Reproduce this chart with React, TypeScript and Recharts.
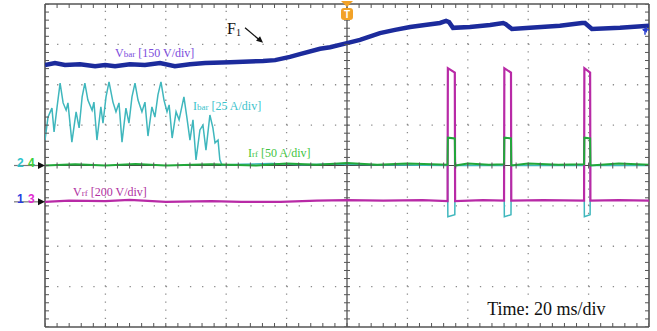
import React from 'react';
import { ComposedChart, Line, XAxis, YAxis, ReferenceLine, ReferenceDot, Scatter } from 'recharts';

// time axis: 0..200 ms (20 ms/div), vertical axis in screen divisions (-4..4)

// Vbar trace (channel 1)
const vbarTime = [0, 3.3, 6.6, 11.6, 16.6, 19.9, 23.2, 28.1, 33.1, 38.1, 43.0, 48.0, 53.0, 61.3, 72.2, 76.2, 81.1, 84.4, 91.1, 94.4, 100, 104.3, 110.9, 115.9, 120.9, 125.8, 130.8, 132.8, 133.8, 135.1, 140.7, 147.4, 151.7, 152.6, 154.6, 160.6, 170.5, 177.8, 178.8, 181.1, 190.4, 200];
const vbarDiv = [2.49, 2.54, 2.49, 2.51, 2.46, 2.49, 2.46, 2.51, 2.49, 2.54, 2.46, 2.51, 2.54, 2.56, 2.59, 2.61, 2.69, 2.76, 2.89, 2.93, 3.03, 3.11, 3.28, 3.36, 3.43, 3.48, 3.53, 3.58, 3.55, 3.41, 3.43, 3.48, 3.53, 3.50, 3.38, 3.41, 3.46, 3.53, 3.53, 3.38, 3.41, 3.46];

// Ibar trace (channel 2)
const ibarTime = [0, 1.0, 2.3, 3.0, 4.0, 5.0, 6.0, 7.0, 7.6, 8.9, 10.3, 11.3, 12.3, 13.2, 14.2, 15.6, 16.2, 17.2, 18.5, 19.2, 20.2, 21.2, 22.5, 23.5, 24.5, 25.5, 26.8, 27.8, 28.8, 29.8, 30.8, 32.1, 33.1, 34.1, 35.4, 36.4, 37.4, 38.4, 39.4, 40.4, 41.1, 42.1, 43.4, 44.4, 46.0, 47.0, 48.0, 49.0, 50.0, 51.3, 52.3, 53.3, 54.6, 55.6, 56.3, 57.3, 57.9, 58.6, 65, 75, 85, 95, 110, 133.3, 133.4, 135.7, 135.8, 152.0, 152.1, 154.3, 154.4, 178.5, 178.6, 180.5, 180.6, 200];
const ibarDiv = [0.63, 1.20, 1.42, 0.83, 1.45, 2.04, 1.55, 1.37, 1.55, 0.58, 1.33, 0.93, 1.70, 2.04, 1.62, 1.37, 1.57, 0.63, 1.45, 1.05, 1.70, 2.07, 1.57, 1.33, 1.55, 0.58, 1.42, 1.05, 1.70, 2.04, 1.62, 1.33, 1.57, 0.73, 1.45, 1.20, 1.75, 2.07, 1.62, 1.33, 1.50, 0.68, 1.33, 1.13, 1.70, 1.18, 0.63, 1.13, 0.14, 0.88, 1.00, 0.38, 1.25, 0.93, 0.56, 0.63, 0.14, 0.01, 0.03, 0.05, 0.02, 0.04, 0.02, 0, -1.27, -1.22, 0, 0, -1.27, -1.22, 0, 0, -1.27, -1.22, 0, 0];

// Vrf trace (channel 3)
const vrfTime = [0, 8, 20, 28, 40, 55, 65, 78, 90, 100, 112, 125, 133.3, 133.4, 135.7, 135.8, 145, 152.0, 152.1, 154.3, 154.4, 165, 178.5, 178.6, 180.5, 180.6, 190, 200];
const vrfDiv = [-0.90, -0.87, -0.88, -0.85, -0.90, -0.88, -0.90, -0.90, -0.87, -0.86, -0.87, -0.86, -0.88, 2.41, 2.30, -0.88, -0.86, -0.87, 2.41, 2.30, -0.87, -0.86, -0.87, 2.41, 2.30, -0.87, -0.86, -0.87];

// Irf trace (channel 4)
const irfTime = [0, 10, 20, 30, 40, 55, 70, 80, 90, 100, 110, 120, 128, 133.3, 133.4, 135.7, 135.8, 140, 147, 152.0, 152.1, 154.3, 154.4, 160, 170, 178.5, 178.6, 180.5, 180.6, 190, 200];
const irfDiv = [0, 0.03, 0, 0.04, 0, 0.03, 0, 0.05, 0.02, 0.06, 0.02, 0.05, 0.03, 0.02, 0.69, 0.67, 0, 0.05, 0.02, 0.03, 0.69, 0.67, 0, 0.05, 0.02, 0.03, 0.69, 0.67, 0, 0.05, 0.02];

// graticule
const majorX = [20, 40, 60, 80, 120, 140, 160, 180];
const majorY = [-3, -2, -1, 1, 2, 3];
const minorX = Array.from({ length: 51 }, (_, i) => i * 4);
const minorY = Array.from({ length: 41 }, (_, i) => +(-4 + i * 0.2).toFixed(1));

const zip = (ts: number[], vs: number[]) => ts.map((t, i) => ({ t, v: vs[i] }));

const vbarData = zip(vbarTime, vbarDiv);
const ibarData = zip(ibarTime, ibarDiv);
const vrfData = zip(vrfTime, vrfDiv);
const irfData = zip(irfTime, irfDiv);

const GRID = '#8c8c8c';
const FRAME = '#555';
const SERIF = '"Liberation Serif", "Times New Roman", serif';
const SANS = '"Liberation Sans", Arial, sans-serif';

const tickShape = (dx1: number, dy1: number, dx2: number, dy2: number) => (p: any) => (
  <line x1={p.cx + dx1} y1={p.cy + dy1} x2={p.cx + dx2} y2={p.cy + dy2} stroke={FRAME} strokeWidth={1} />
);

const channelMarker = (a: string, ca: string, b: string, cb: string) => (p: any) => (
  <g>
    <line x1={p.cx - 31} y1={p.cy} x2={p.cx - 5} y2={p.cy} stroke="#777" strokeWidth={1.2} />
    <polygon points={`${p.cx - 7},${p.cy - 3.5} ${p.cx},${p.cy} ${p.cx - 7},${p.cy + 3.5}`} fill="#111" />
    <text x={p.cx - 28} y={p.cy + 1} fill={ca} fontSize={12} fontWeight="bold" fontFamily={SANS}>{a}</text>
    <text x={p.cx - 17} y={p.cy + 1} fill={cb} fontSize={12} fontWeight="bold" fontFamily={SANS}>{b}</text>
  </g>
);

const labelShape = (main: string, sub: string, rest: string, color: string) => (p: any) => (
  <text x={p.cx} y={p.cy} fill={color} fontSize={12} fontFamily={SERIF}>
    {main}
    <tspan fontSize={9}>{sub}</tspan>
    {rest}
  </text>
);

const triggerShape = (p: any) => (
  <g>
    <polygon points={`${p.cx - 6},${p.cy - 3} ${p.cx + 6},${p.cy - 3} ${p.cx},${p.cy + 3}`} fill="#f2a228" />
    <rect x={p.cx - 6} y={p.cy + 4} width={12} height={12} rx={3} fill="#f2a228" />
    <text x={p.cx} y={p.cy + 14} fill="#fff" fontSize={10} fontWeight="bold" textAnchor="middle" fontFamily={SANS}>T</text>
  </g>
);

const arrowShape = (p: any) => (
  <g>
    <line x1={p.cx - 18} y1={p.cy - 15} x2={p.cx - 2} y2={p.cy - 1.5} stroke="#111" strokeWidth={1.3} />
    <polygon points={`${p.cx},${p.cy} ${p.cx - 7},${p.cy - 2} ${p.cx - 3},${p.cy - 6.5}`} fill="#111" />
  </g>
);

const f1Shape = (p: any) => (
  <text x={p.cx} y={p.cy} fill="#111" fontSize={16} fontFamily={SERIF}>
    F<tspan fontSize={10} dy={2}>1</tspan>
  </text>
);

const ch1RefShape = (p: any) => (
  <g>
    <line x1={p.cx - 6} y1={p.cy} x2={p.cx} y2={p.cy} stroke="#2a3fd0" strokeWidth={1.5} />
    <polygon points={`${p.cx - 7},${p.cy} ${p.cx - 2},${p.cy - 3} ${p.cx - 2},${p.cy + 3}`} fill="#2a3fd0" />
    <line x1={p.cx - 4} y1={p.cy} x2={p.cx - 4} y2={p.cy + 5} stroke="#2a3fd0" strokeWidth={1.5} />
  </g>
);

const timeShape = (p: any) => (
  <g>
    <rect x={p.cx - 3} y={p.cy - 16} width={128} height={21} fill="#fff" />
    <text x={p.cx} y={p.cy} fill="#111" fontSize={18} fontFamily={SERIF}>Time: 20 ms/div</text>
  </g>
);

export default function App() {
  return (
    <div style={{ position: 'absolute', left: 0, top: 0, width: 657, height: 331, background: '#fff' }}>
      <ComposedChart width={657} height={331} margin={{ top: 4, right: 8, bottom: 4, left: 45 }}>
        <XAxis type="number" dataKey="t" domain={[0, 200]} hide allowDataOverflow />
        <YAxis type="number" dataKey="v" domain={[-4, 4]} hide allowDataOverflow />

        {majorX.map((x) => (
          <ReferenceLine key={'gx' + x} x={x} stroke={GRID} strokeWidth={1.3} strokeDasharray="1.3 6.775" />
        ))}
        {majorY.map((y) => (
          <ReferenceLine key={'gy' + y} y={y} stroke={GRID} strokeWidth={1.3} strokeDasharray="1.3 10.78" />
        ))}
        <ReferenceLine x={100} stroke="#444" strokeWidth={1.2} />
        <ReferenceLine y={0} stroke="#444" strokeWidth={1.2} />
        <ReferenceLine x={0} stroke={FRAME} strokeWidth={1.6} />
        <ReferenceLine x={200} stroke={FRAME} strokeWidth={1.6} />
        <ReferenceLine y={4} stroke={FRAME} strokeWidth={1.6} />
        <ReferenceLine y={-4} stroke={FRAME} strokeWidth={1.6} />

        <Scatter data={minorX.map((t) => ({ t, v: 4 }))} shape={tickShape(0, 0, 0, 4)} isAnimationActive={false} />
        <Scatter data={minorX.map((t) => ({ t, v: -4 }))} shape={tickShape(0, -4, 0, 0)} isAnimationActive={false} />
        <Scatter data={minorX.map((t) => ({ t, v: 0 }))} shape={tickShape(0, -3, 0, 3)} isAnimationActive={false} />
        <Scatter data={minorY.map((v) => ({ t: 0, v }))} shape={tickShape(0, 0, 4, 0)} isAnimationActive={false} />
        <Scatter data={minorY.map((v) => ({ t: 200, v }))} shape={tickShape(-4, 0, 0, 0)} isAnimationActive={false} />
        <Scatter data={minorY.map((v) => ({ t: 100, v }))} shape={tickShape(-3, 0, 3, 0)} isAnimationActive={false} />

        <Line data={ibarData} dataKey="v" type="linear" stroke="#3fb7bd" strokeWidth={1.5} dot={false} isAnimationActive={false} />
        <Line data={vrfData} dataKey="v" type="linear" stroke="#b82aa6" strokeWidth={2.2} dot={false} isAnimationActive={false} />
        <Line data={irfData} dataKey="v" type="linear" stroke="#21a83a" strokeWidth={2} dot={false} isAnimationActive={false} />
        <Line data={vbarData} dataKey="v" type="linear" stroke="#1c2b9c" strokeWidth={4.5} dot={false} isAnimationActive={false} />

        <ReferenceDot x={23.2} y={2.69} r={0} shape={labelShape('V', 'bar', ' [150 V/div]', '#7b4bdc')} />
        <ReferenceDot x={49.0} y={1.37} r={0} shape={labelShape('I', 'bar', ' [25 A/div]', '#3cc3cc')} />
        <ReferenceDot x={67.2} y={0.21} r={0} shape={labelShape('I', 'rf', ' [50 A/div]', '#3fc43f')} />
        <ReferenceDot x={9.3} y={-0.76} r={0} shape={labelShape('V', 'rf', ' [200 V/div]', '#b0309f')} />
        <ReferenceDot x={60.3} y={3.26} r={0} shape={f1Shape} />
        <ReferenceDot x={72.2} y={3.04} r={0} shape={arrowShape} />
        <ReferenceDot x={146.4} y={-3.70} r={0} shape={timeShape} />
        <ReferenceDot x={100} y={4} r={0} ifOverflow="visible" shape={triggerShape} />
        <ReferenceDot x={200} y={3.36} r={0} ifOverflow="visible" shape={ch1RefShape} />
        <ReferenceDot x={0} y={0} r={0} ifOverflow="visible" shape={channelMarker('2', '#2ec4cc', '4', '#3ccf3c')} />
        <ReferenceDot x={0} y={-0.90} r={0} ifOverflow="visible" shape={channelMarker('1', '#2a3fe0', '3', '#e02ad0')} />
      </ComposedChart>
    </div>
  );
}
